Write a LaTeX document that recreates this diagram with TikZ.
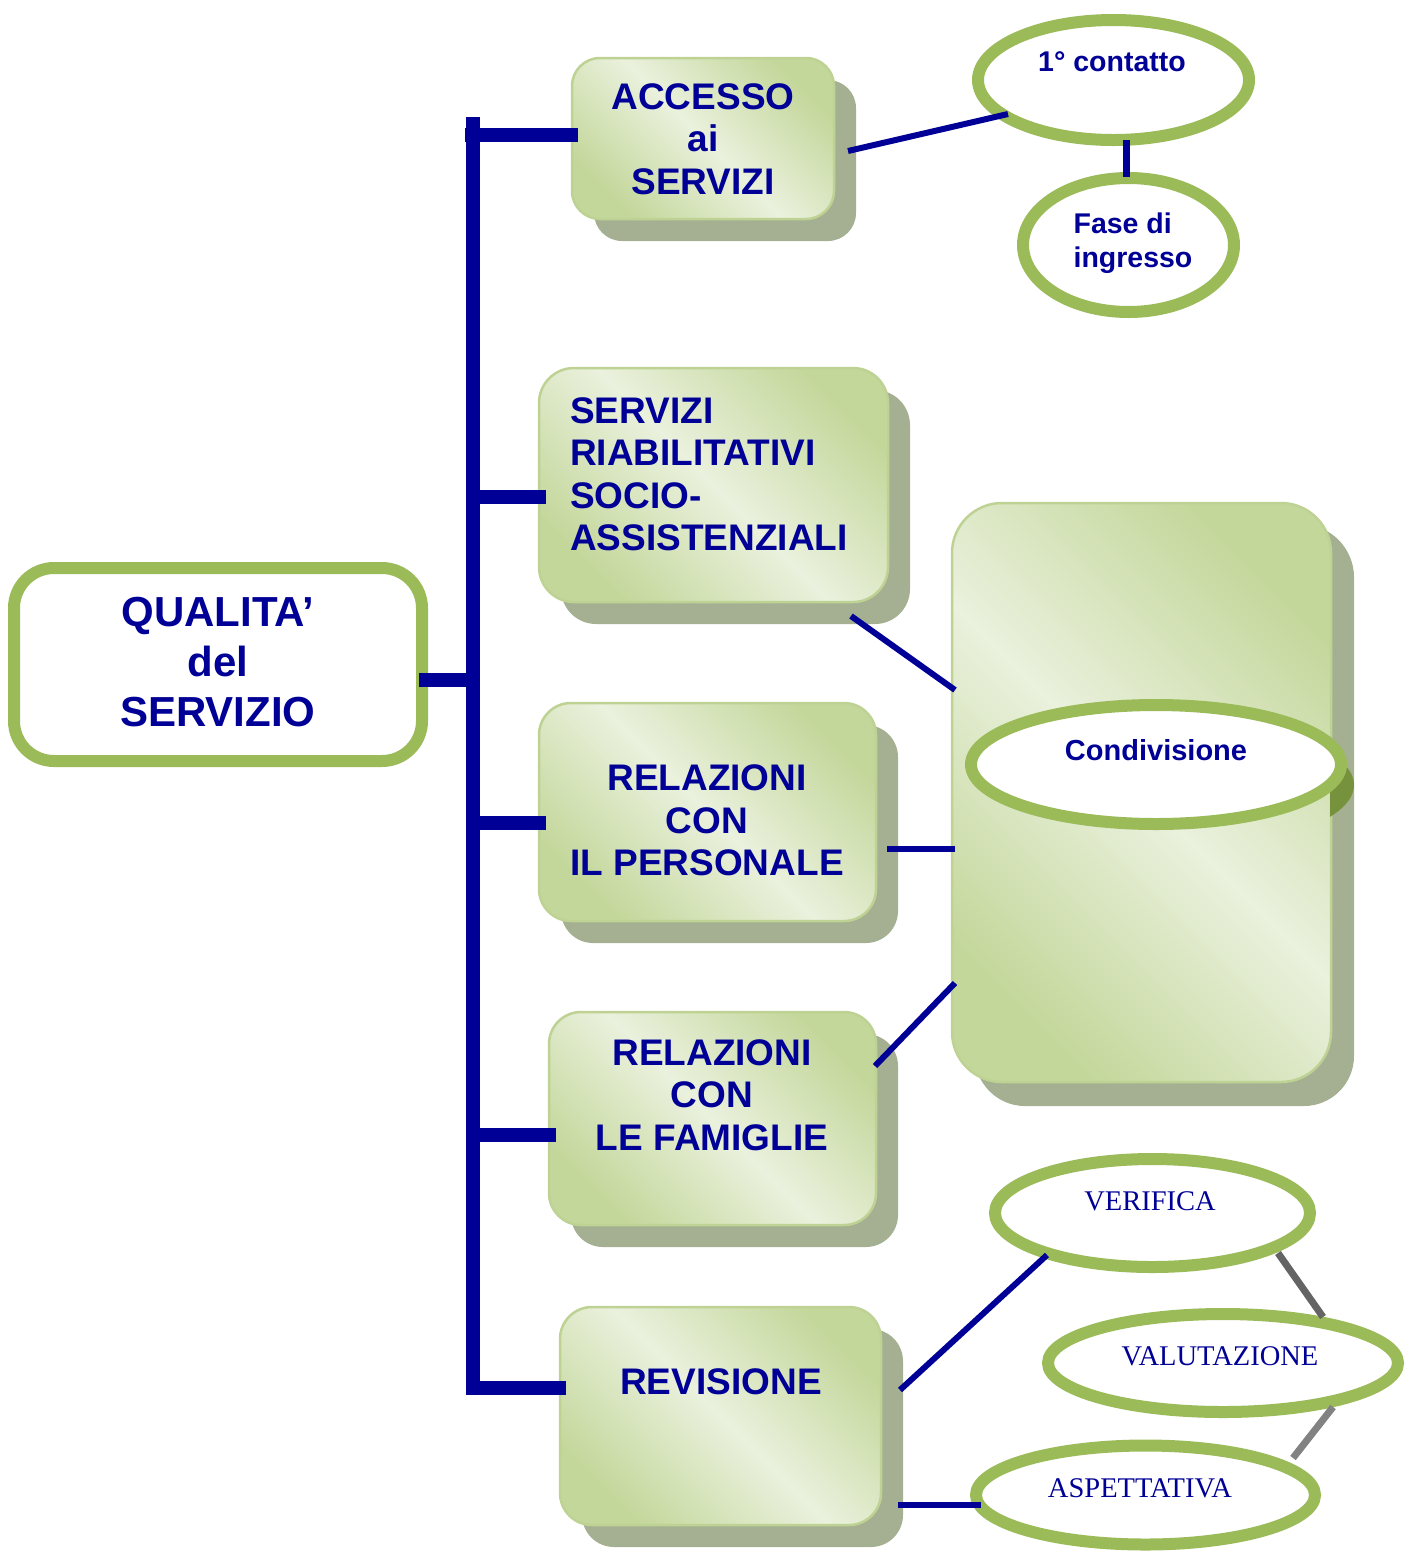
\documentclass[tikz,border=0pt]{standalone}
\usepackage{fontspec}
\setmainfont{Liberation Sans}
\newfontfamily\timesfont{Liberation Serif}
\usetikzlibrary{shapes.geometric,calc,shadows}
\definecolor{navy}{RGB}{0,0,150}
\definecolor{grn}{RGB}{155,187,89}
\definecolor{dgrn}{RGB}{118,146,60}
\definecolor{boxdark}{RGB}{196,215,155}
\definecolor{boxlight}{RGB}{234,241,221}
\definecolor{boxedge}{RGB}{190,210,148}
\definecolor{shadowc}{RGB}{165,176,146}
\definecolor{grayA}{RGB}{100,100,100}
\definecolor{grayB}{RGB}{130,130,130}
\begin{document}
\begin{tikzpicture}[x=1pt,y=-1pt,
  bus/.style={draw=navy, line width=14pt},
  conn/.style={draw=navy, line width=6pt},
  gconn/.style={line width=7pt},
  gbox/.style={rectangle, rounded corners=28pt, draw=boxedge, line width=2.5pt,
    top color=boxdark, bottom color=boxdark, middle color=boxlight, shading angle=-45,
    inner sep=0pt, drop shadow={shadow xshift=22pt, shadow yshift=-22pt, fill=shadowc, opacity=1}},
  oval/.style={ellipse, draw=grn, line width=12pt, fill=white, inner sep=0pt},
  btxt/.style={text=navy, font=\bfseries\fontsize{37}{42.5}\selectfont, align=center, inner sep=0pt},
  otxt/.style={text=navy, font=\bfseries\fontsize{28.5}{34}\selectfont, align=center, inner sep=0pt},
  ttxt/.style={text=navy, font=\timesfont\fontsize{28.5}{34}\selectfont, inner sep=0pt},
]
\useasboundingbox (0,0) rectangle (1411,1551);

% main box
\node[draw=grn, line width=12pt, fill=white, rounded corners=40pt, minimum width=408pt, minimum height=193pt, inner sep=0pt] (qual) at (218,664.5) {};
\node[text=navy, font=\bfseries\fontsize{42}{50}\selectfont, align=center, inner sep=0pt] (qualt) at (218,662) {QUALITA'\\del\\SERVIZIO};

% boxes
\node[gbox, minimum width=262pt, minimum height=161pt] (acc) at (703,138.5) {};
\node[btxt] (acct) at (703,139) {ACCESSO\\ai\\SERVIZI};

\node[gbox, rounded corners=35pt, minimum width=349pt, minimum height=234pt] (ria) at (713.5,485) {};
\node[btxt, align=left, anchor=west] (riat) at (570,474.5) {SERVIZI\\RIABILITATIVI\\SOCIO-\\ASSISTENZIALI};

\node[gbox, rounded corners=32pt, minimum width=337pt, minimum height=218pt] (pers) at (707.5,812) {};
\node[btxt] (perst) at (707,820.5) {RELAZIONI\\CON\\IL PERSONALE};

\node[gbox, rounded corners=32pt, minimum width=327pt, minimum height=213pt] (fam) at (712.5,1118.5) {};
\node[btxt] (famt) at (712,1095) {RELAZIONI\\CON\\LE FAMIGLIE};

\node[gbox, rounded corners=32pt, minimum width=321pt, minimum height=218pt] (rev) at (720.5,1416) {};
\node[btxt] (revt) at (721,1382) {REVISIONE};

% big container
\node[gbox, rounded corners=50pt, minimum width=379pt, minimum height=579pt,
  drop shadow={shadow xshift=23pt, shadow yshift=-24pt, fill=shadowc, opacity=1}] (big) at (1141.5,792.5) {};
\begin{scope}
  \clip (1330,700) rectangle (1370,840);
  \fill[dgrn] (1163,785) ellipse [x radius=191, y radius=65.5];
\end{scope}
\node[oval, minimum width=370pt, minimum height=119pt] (cond) at (1156,764.5) {};
\node[otxt, font=\bfseries\fontsize{29}{34}\selectfont] (condt) at (1156,750) {Condivisione};

% top ellipses
\node[oval, minimum width=271pt, minimum height=120pt] (cont) at (1113.5,80) {};
\node[otxt] (contt) at (1112,62) {1° contatto};
\node[oval, minimum width=211pt, minimum height=134pt] (fase) at (1128.5,245) {};
\node[otxt, align=left] (faset) at (1133,243) {Fase di\\ingresso};

% bottom ellipses
\node[oval, minimum width=315pt, minimum height=108pt] (ver) at (1152.5,1213) {};
\node[ttxt] (vert) at (1150,1201) {VERIFICA};
\node[oval, minimum width=350pt, minimum height=98pt] (val) at (1223,1363) {};
\node[ttxt] (valt) at (1220,1356) {VALUTAZIONE};
\node[oval, minimum width=339pt, minimum height=99pt] (asp) at (1145.5,1495) {};
\node[ttxt] (aspt) at (1140,1488) {ASPETTATIVA};

% bus
\coordinate (busT) at (473,117);
\coordinate (busB) at (473,1395);
\draw[bus] (busT) -- (busB);
\coordinate (bAcc) at (465,135);
\coordinate (bQual) at (473,680);
\coordinate (bRia) at (473,497);
\coordinate (bPers) at (473,823);
\coordinate (bFam) at (473,1135);
\coordinate (bRev) at (466,1388);
\draw[bus] (bAcc) -- (578,135) coordinate (eAcc);
\draw[bus] ($(qual.east)+(-9,15.5)$) -- (bQual);
\draw[bus] (bRia) -- ($(ria.west)+(8,12)$);
\draw[bus] (bPers) -- ($(pers.west)+(8,11)$);
\draw[bus] (bFam) -- ($(fam.west)+(8,16.5)$);
\draw[bus] (bRev) -- ($(rev.west)+(7,-28)$);

% connectors
\draw[conn] (848,151) coordinate (acc1) -- (1008,114) coordinate (cont1);
\draw[conn, line width=7pt] (1126,140) coordinate (cont2) -- (1126,177) coordinate (fase1);
\draw[conn] (851,616) coordinate (ria1) -- (955,690) coordinate (big1);
\draw[conn] (887,849) coordinate (pers1) -- (955,849) coordinate (big2);
\draw[conn] (875,1066) coordinate (fam1) -- (955,983) coordinate (big3);
\draw[conn] (900,1390) coordinate (rev1) -- (1047,1255) coordinate (ver1);
\draw[conn] (898,1505) coordinate (rev2) -- (981,1505) coordinate (asp1);
\draw[gconn, grayA] (1278,1253) coordinate (ver2) -- (1323,1317) coordinate (val1);
\draw[gconn, grayB] (1333,1407) coordinate (val2) -- (1293,1458) coordinate (asp2);
\end{tikzpicture}
\end{document}
